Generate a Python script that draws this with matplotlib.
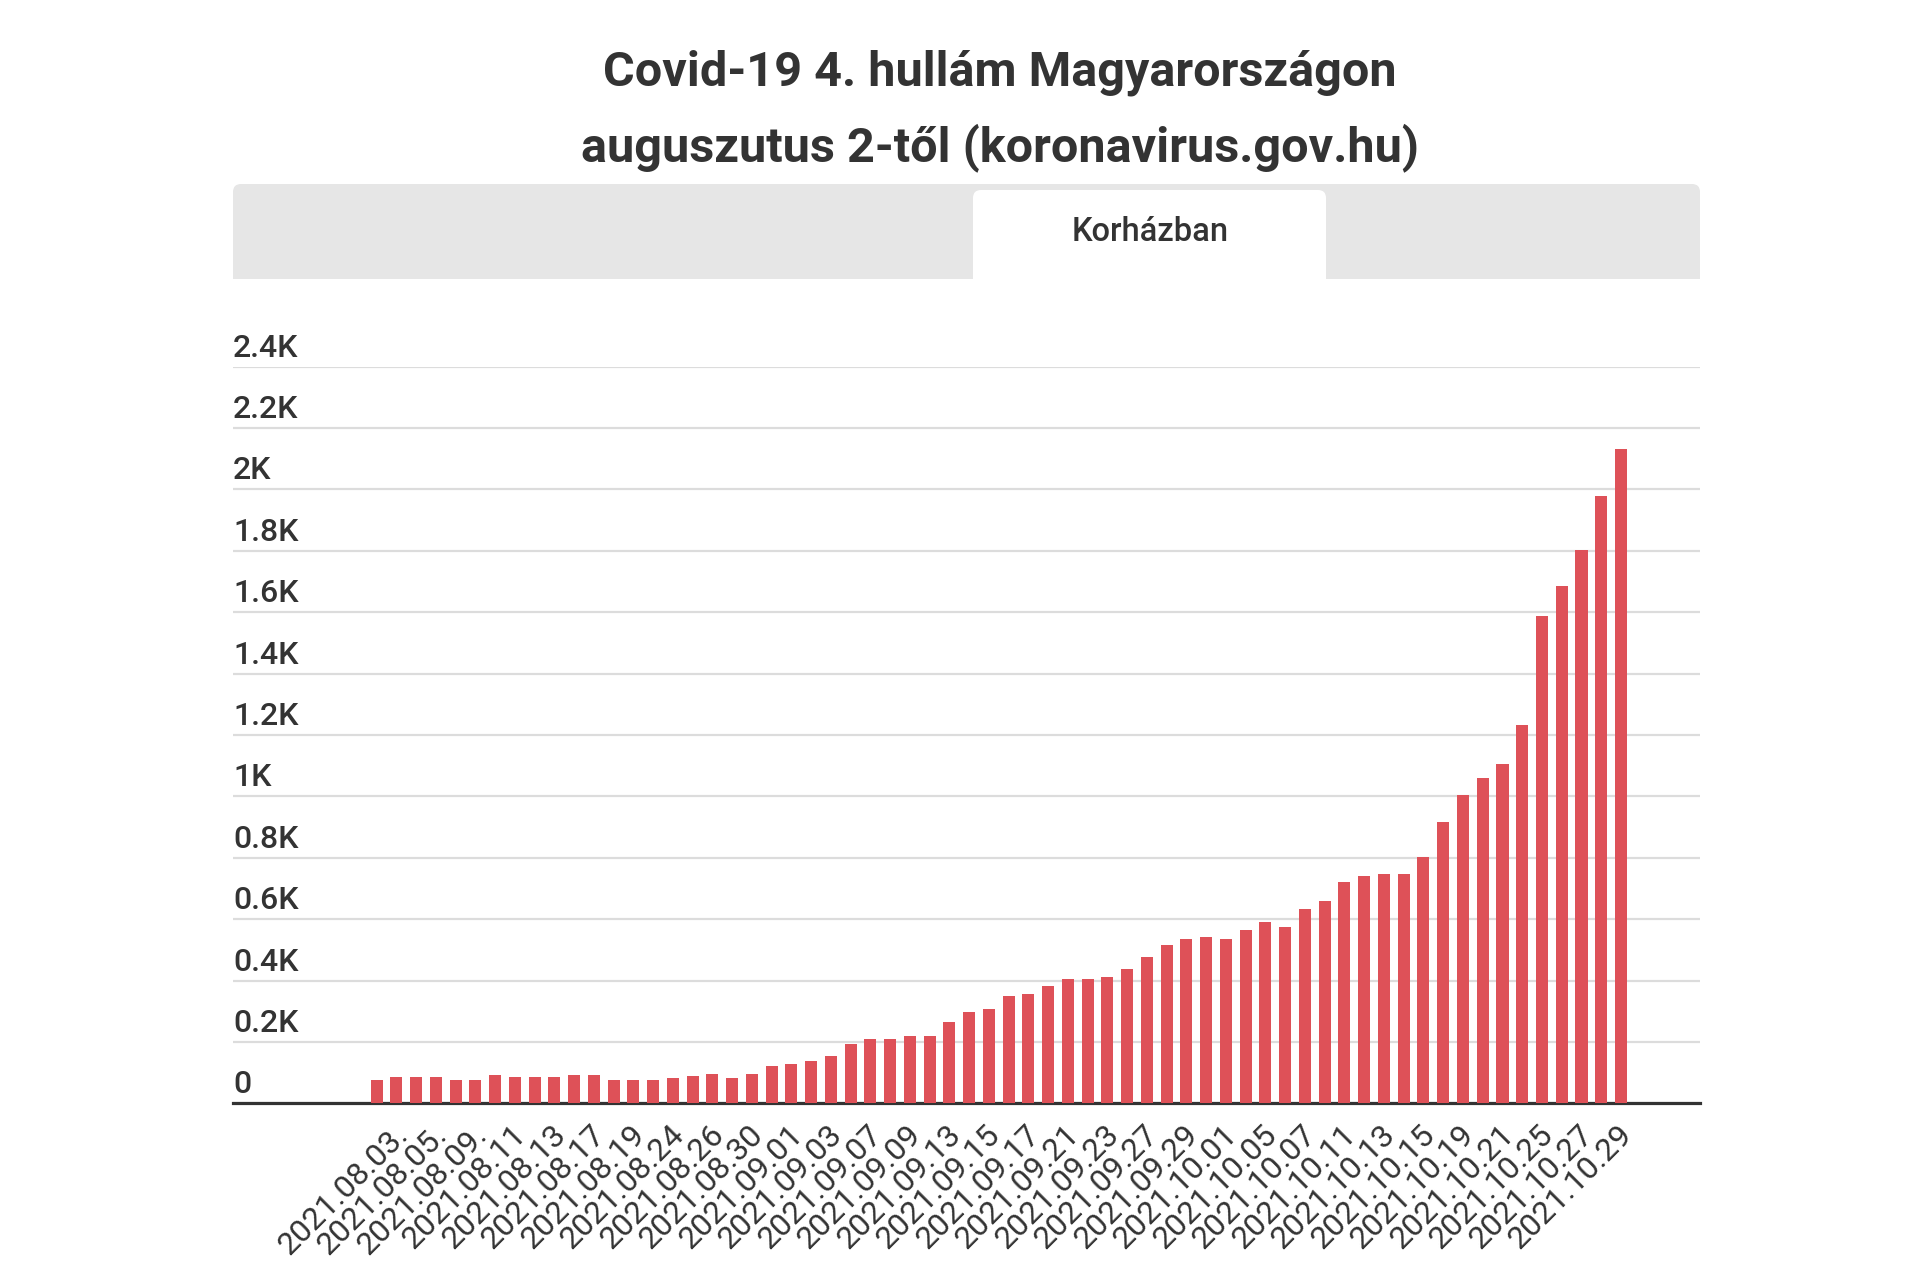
import matplotlib.pyplot as plt
import matplotlib.transforms as mtransforms
from matplotlib.patches import FancyBboxPatch, Rectangle

plt.rcParams['font.family'] = ['Roboto', 'DejaVu Sans']

# Dátumok (munkanapok, augusztus 2-tól)
datumok = [
    '2021.08.02.', '2021.08.03.', '2021.08.04.', '2021.08.05.', '2021.08.06.', '2021.08.09.',
    '2021.08.10', '2021.08.11', '2021.08.12', '2021.08.13', '2021.08.16', '2021.08.17',
    '2021.08.18', '2021.08.19', '2021.08.23', '2021.08.24', '2021.08.25', '2021.08.26',
    '2021.08.27', '2021.08.30', '2021.08.31', '2021.09.01', '2021.09.02', '2021.09.03',
    '2021.09.06', '2021.09.07', '2021.09.08', '2021.09.09', '2021.09.10', '2021.09.13',
    '2021.09.14', '2021.09.15', '2021.09.16', '2021.09.17', '2021.09.20', '2021.09.21',
    '2021.09.22', '2021.09.23', '2021.09.24', '2021.09.27', '2021.09.28', '2021.09.29',
    '2021.09.30', '2021.10.01', '2021.10.04', '2021.10.05', '2021.10.06', '2021.10.07',
    '2021.10.08', '2021.10.11', '2021.10.12', '2021.10.13', '2021.10.14', '2021.10.15',
    '2021.10.18', '2021.10.19', '2021.10.20', '2021.10.21', '2021.10.22', '2021.10.25',
    '2021.10.26', '2021.10.27', '2021.10.28', '2021.10.29',
]

# Kórházban ápoltak száma
korhazban = [
    77, 85, 85, 85, 77, 77, 93, 85, 85, 85, 93, 93, 77, 77, 77, 84,
    90, 97, 81, 97, 121, 129, 137, 154, 194, 210, 210, 218, 218, 266, 297, 308,
    349, 356, 381, 405, 405, 413, 437, 478, 517, 534, 541, 534, 566, 590, 574, 632,
    658, 722, 740, 747, 747, 803, 915, 1003, 1059, 1106, 1233, 1587, 1685, 1804, 1979, 2132,
]

y_ertekek = [0, 200, 400, 600, 800, 1000, 1200, 1400, 1600, 1800, 2000, 2200, 2400]
y_feliratok = ['0', '0.2K', '0.4K', '0.6K', '0.8K', '1K', '1.2K', '1.4K', '1.6K',
               '1.8K', '2K', '2.2K', '2.4K']

szoveg = '#333333'
piros = '#de5158'

fig = plt.figure(figsize=(19.2, 12.8), dpi=100)
W, H = 1920, 1280

# Cím
fig.text(1000 / W, 1 - 73 / H, 'Covid-19 4. hullám Magyarországon', ha='center', va='center',
         fontsize=35, fontweight='bold', color=szoveg)
fig.text(1000 / W, 1 - 148 / H, 'auguszutus 2-től (koronavirus.gov.hu)', ha='center', va='center',
         fontsize=35, fontweight='bold', color=szoveg)

# Fülsáv
ident = mtransforms.IdentityTransform()
szurke = FancyBboxPatch((233, H - 292), 1700 - 233, 292 - 184, boxstyle='round,pad=0,rounding_size=8',
                        facecolor='#e6e6e6', edgecolor='none', transform=ident)
fig.patches.append(szurke)
fig.patches.append(Rectangle((225, H - 295), 1490, 16, facecolor='white', edgecolor='none', transform=ident))
ful = FancyBboxPatch((973, H - 292), 1326 - 973, 292 - 190, boxstyle='round,pad=0,rounding_size=8',
                     facecolor='white', edgecolor='none', transform=ident)
fig.patches.append(ful)
fig.text(1150 / W, 1 - 232 / H, 'Korházban', ha='center', va='center', fontsize=23.5,
         fontweight='medium', color=szoveg)

# Diagram
ax = fig.add_axes([233 / W, 1 - 1103.3 / H, (1700 - 233) / W, (1103.3 - 366.7) / H])
x = list(range(len(datumok)))
ax.bar(x, korhazban, width=0.61, color=piros, zorder=3)
ax.set_xlim(-7.27, 67.0)
ax.set_ylim(0, 2400)

ax.set_yticks(y_ertekek)
ax.yaxis.grid(True, color='#dcdcdc', linewidth=1.6)
ax.set_axisbelow(True)
ax.tick_params(axis='y', length=0, labelleft=False)
eltolas = mtransforms.ScaledTranslation(0, 10 / 100, fig.dpi_scale_trans)
for v, lab in zip(y_ertekek, y_feliratok):
    ax.text(0, v, lab, transform=ax.get_yaxis_transform() + eltolas, ha='left', va='baseline',
            fontsize=23, fontweight='medium', color=szoveg)

for s in ['top', 'left', 'right']:
    ax.spines[s].set_visible(False)
ax.spines['bottom'].set_color(szoveg)
ax.spines['bottom'].set_linewidth(2.3)

# Minden második dátum felirata
ax.set_xticks(x[1::2])
ax.set_xticklabels(datumok[1::2], rotation=45, ha='right', va='center', rotation_mode='anchor',
                   fontsize=23, color=szoveg)
ax.tick_params(axis='x', length=0, pad=19)
dx = mtransforms.ScaledTranslation(7 / 100, 0, fig.dpi_scale_trans)
for lab in ax.get_xticklabels():
    lab.set_transform(lab.get_transform() + dx)

fig.savefig('out.png', dpi=100)
